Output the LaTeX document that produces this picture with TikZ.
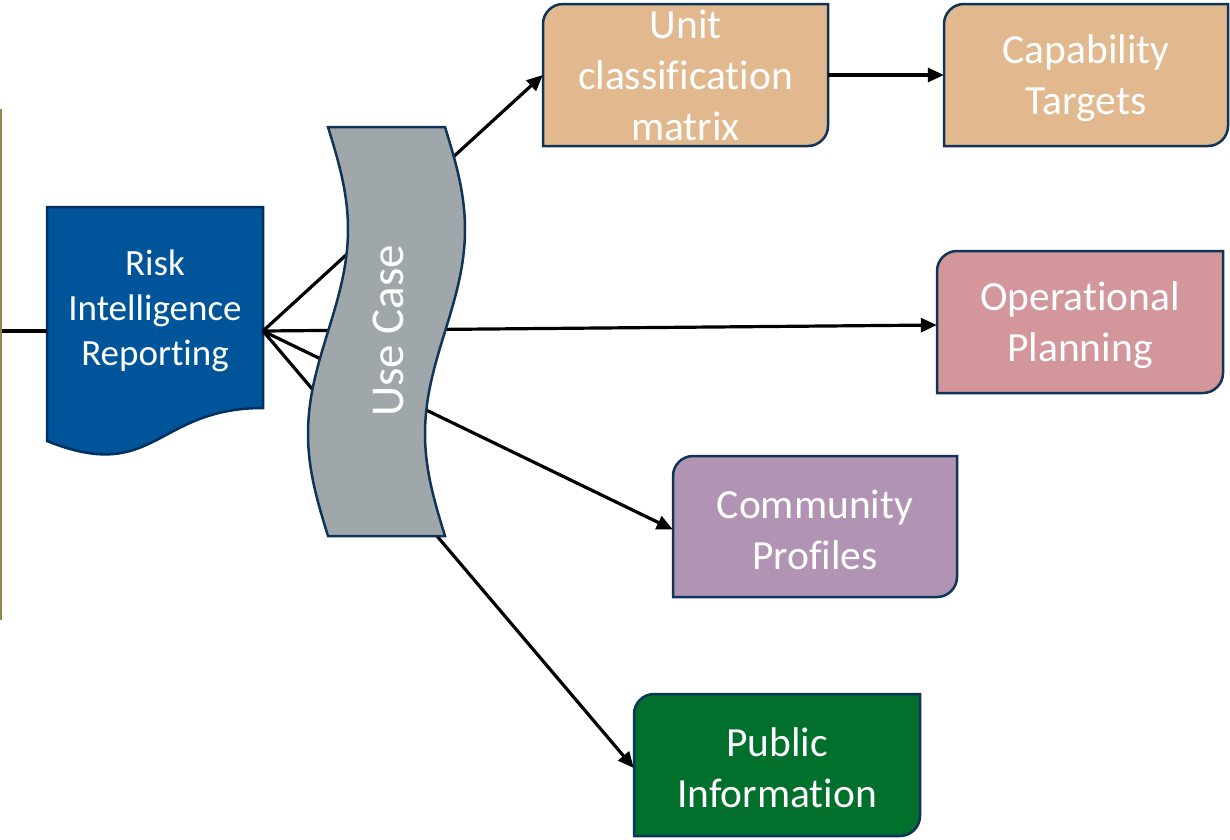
\documentclass[tikz,border=0pt]{standalone}
\usepackage{fontspec}
\setmainfont{Carlito}[Ligatures=NoCommon, RawFeature=-liga]
\usetikzlibrary{arrows.meta,calc}
\definecolor{navy}{RGB}{16,52,88}
\definecolor{riskblue}{RGB}{0,84,154}
\definecolor{riskedge}{RGB}{0,48,96}
\definecolor{ucgrey}{RGB}{159,167,170}
\definecolor{tan}{RGB}{226,185,143}
\definecolor{rose}{RGB}{211,150,155}
\definecolor{lilac}{RGB}{177,148,179}
\definecolor{dkgreen}{RGB}{0,112,44}
\definecolor{olivebar}{RGB}{145,135,75}
\tikzset{
  boxline/.style={draw=navy, line width=2.5pt},
  boxtext/.style={text=white, align=center, inner sep=0pt,
    font=\fontsize{41.5}{51}\selectfont},
  conn/.style={draw=black, line width=3.2pt},
  arr/.style={conn, -{Triangle[length=16pt,width=14pt]}},
}
\newcommand\rdbox[8]{%
  \path[boxline, fill=#6] (#2,#5) -- (#2,#3+20) .. controls (#2,#3+9) and (#2+9,#3) .. (#2+20,#3)
     -- (#4,#3) -- (#4,#5-20) .. controls (#4,#5-9) and (#4-9,#5) .. (#4-20,#5) -- cycle;
  \node[boxtext, yshift=-#8pt, minimum width={(#4-#2)*1pt}, minimum height={(#5-#3)*1pt}] (#1)
     at ({(#2+#4)/2},{(#3+#5)/2}) {#7};
}
\begin{document}
\begin{tikzpicture}[x=1pt,y=-1pt]
\useasboundingbox (0,0) rectangle (1230,839);
% left frame edge
\draw[olivebar, line width=2pt] (1,109) -- (1,620);
% boxes
\rdbox{unit}{543}{4}{828}{146}{tan}{Unit\\classification\\matrix}{0}
\rdbox{cap}{944}{4}{1228}{146}{tan}{Capability\\Targets}{3}
\rdbox{oper}{937}{251}{1223}{393}{rose}{Operational\\Planning}{3}
\rdbox{comm}{673}{456}{957}{597}{lilac}{Community\\Profiles}{3}
\rdbox{pub}{634}{694}{920}{836}{dkgreen}{Public\\Information}{3}
% document shape
\path[draw=riskedge, line width=2.5pt, fill=riskblue]
  (47,207) -- (263,207) -- (263,408) .. controls (155,408) and (155,484.5) .. (47,441) -- cycle;
\node[text=white, align=center, inner sep=0pt, font=\fontsize{37}{45}\selectfont] (risk) at (155,311)
  {Risk\\Intelligence\\Reporting};
\coordinate (hub) at (263,331);
\coordinate (riskW) at (47,331);
\coordinate (frame) at (2,331);
% connectors
\draw[conn] (frame) -- (riskW);
\draw[arr] (hub) -- (unit.west);
\draw[arr] (hub) -- (oper.west);
\draw[arr] (hub) -- (comm.west);
\draw[arr] (hub) -- (pub.west);
\draw[arr] (unit.east) -- (unit.east -| cap.west);
% use case wave
\path[draw=navy, line width=2.5pt, fill=ucgrey]
  plot[domain=127:536, samples=80] ({328+20*sin((\x-127)/409*360)},\x)
  -- plot[domain=536:127, samples=80] ({445+20*sin((\x-127)/409*360)},\x) -- cycle;
\node[text=white, rotate=90, inner sep=0pt, font=\fontsize{47}{56}\selectfont] (usecase) at (388,331) {Use Case};
\end{tikzpicture}
\end{document}
